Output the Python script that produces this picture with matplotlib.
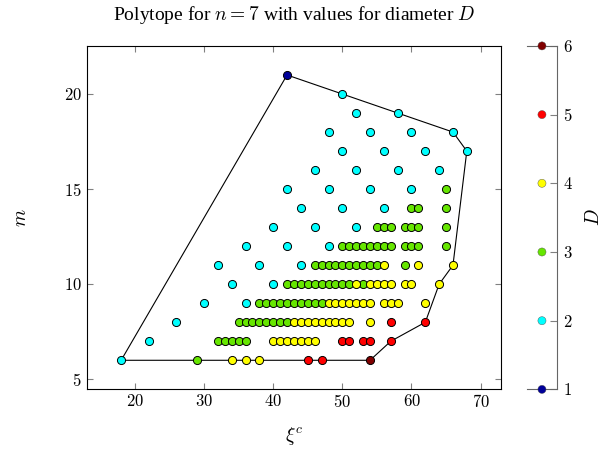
import matplotlib
matplotlib.use('Agg')
import matplotlib.pyplot as plt

plt.rcParams['font.family'] = ['Liberation Serif', 'DejaVu Serif']
plt.rcParams['mathtext.fontset'] = 'cm'
plt.rcParams['font.size'] = 12

# points grouped by diameter D  (xi^c, m)
xi_d1 = [42]
m_d1 = [21]

xi_d2 = [18, 22, 26, 30, 36, 34, 40, 32, 38, 44, 36, 42, 48, 40, 46, 52,
         44, 50, 56, 42, 48, 54, 60, 46, 52, 58, 64, 50, 56, 62, 68,
         48, 54, 60, 66, 52, 58, 50]
m_d2 = [6, 7, 8, 9, 9, 10, 10, 11, 11, 11, 12, 12, 12, 13, 13, 13,
        14, 14, 14, 15, 15, 15, 15, 16, 16, 16, 16, 17, 17, 17, 17,
        18, 18, 18, 18, 19, 19, 20]

xi_d3 = ([29] + list(range(32, 37)) + list(range(35, 43)) + list(range(38, 48))
         + list(range(42, 52)) + [53] + list(range(46, 56)) + [59]
         + list(range(50, 58)) + [59, 60, 61, 65]
         + [55, 56, 57, 59, 60, 61, 65] + [60, 61, 65] + [65])
m_d3 = ([6] + [7] * 5 + [8] * 8 + [9] * 10
        + [10] * 10 + [10] + [11] * 10 + [11]
        + [12] * 8 + [12] * 4
        + [13] * 7 + [14] * 3 + [15])

xi_d4 = ([34, 36, 38] + list(range(40, 47)) + list(range(43, 52)) + [54]
         + list(range(48, 55)) + [56, 57, 58, 62]
         + [52, 54, 55, 56, 57, 59, 60, 64] + [56, 61, 66])
m_d4 = ([6] * 3 + [7] * 7 + [8] * 9 + [8]
        + [9] * 7 + [9] * 4
        + [10] * 8 + [11] * 3)

xi_d5 = [45, 47, 50, 51, 53, 54, 57, 57, 62]
m_d5 = [6, 6, 7, 7, 7, 7, 7, 8, 8]

xi_d6 = [54]
m_d6 = [6]

# convex hull of the polytope
hull_xi = [18, 42, 50, 58, 66, 68, 66, 64, 62, 57, 54, 18]
hull_m = [6, 21, 20, 19, 18, 17, 11, 10, 8, 7, 6, 6]

d_levels = [1, 2, 3, 4, 5, 6]
d_colors = ['#000099', '#00ffff', '#66e600', '#ffff00', '#ff0000', '#800000']

groups = [(xi_d1, m_d1), (xi_d2, m_d2), (xi_d3, m_d3),
          (xi_d4, m_d4), (xi_d5, m_d5), (xi_d6, m_d6)]

fig = plt.figure(figsize=(6.05, 4.5), dpi=100)
ax = fig.add_axes([0.1431, 0.1347, 0.6856, 0.7633])

ax.plot(hull_xi, hull_m, color='black', lw=0.8, zorder=1)
for (gx, gm), c in zip(groups, d_colors):
    ax.scatter(gx, gm, s=34, c=c, edgecolors='black', linewidths=0.7, zorder=3)

ax.set_xlim(13, 73)
ax.set_ylim(4.47, 22.53)
ax.set_xticks([20, 30, 40, 50, 60, 70])
ax.set_yticks([5, 10, 15, 20])
ax.set_xticklabels(['$%d$' % v for v in [20, 30, 40, 50, 60, 70]], fontsize=12)
ax.set_yticklabels(['$%d$' % v for v in [5, 10, 15, 20]], fontsize=12)
ax.tick_params(direction='in', top=True, right=True, length=4, color='0.5', width=0.8)
for sp in ax.spines.values():
    sp.set_linewidth(0.8)
ax.set_xlabel(r'$\xi^c$', fontsize=14, labelpad=10)
ax.set_ylabel(r'$m$', fontsize=14, labelpad=24)
ax.set_title(r'Polytope for $n = 7$ with values for diameter $D$', fontsize=14, pad=19)

# sampled colorbar
cax = fig.add_axes([0.871, 0.1347, 0.0496, 0.7633])
cax.scatter([0.5] * len(d_levels), d_levels, s=34, c=d_colors, edgecolors='0.3',
            linewidths=0.3, clip_on=False, zorder=3)
cax.set_xlim(0, 1)
cax.set_ylim(1, 6)
cax.spines['left'].set_visible(False)
for sp in ['right', 'top', 'bottom']:
    cax.spines[sp].set_color('0.4')
    cax.spines[sp].set_linewidth(0.8)
cax.set_xticks([])
cax.yaxis.tick_right()
cax.set_yticks(d_levels)
cax.set_yticklabels(['$%d$' % v for v in d_levels], fontsize=12)
cax.tick_params(axis='y', direction='in', length=5, color='0.5', width=0.8, pad=4)
cax.yaxis.set_label_position('right')
cax.set_ylabel('$D$', fontsize=14, labelpad=9)

fig.savefig('out.png', dpi=100)
